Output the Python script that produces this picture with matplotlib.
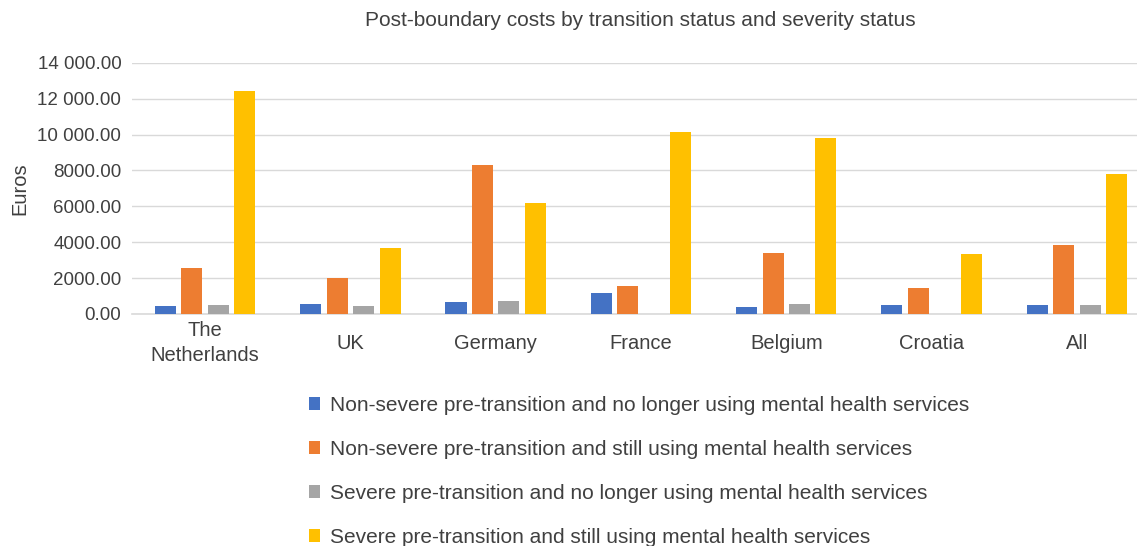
import matplotlib
matplotlib.use("Agg")
import matplotlib.pyplot as plt
import numpy as np
from matplotlib.ticker import FuncFormatter, MultipleLocator

countries = ["The\nNetherlands", "UK", "Germany", "France", "Belgium", "Croatia", "All"]
series_names = [
    "Non-severe pre-transition and no longer using mental health services",
    "Non-severe pre-transition and still using mental health services",
    "Severe pre-transition and no longer using mental health services",
    "Severe pre-transition and still using mental health services",
]
nonsevere_no_longer = [460, 530, 680, 1170, 370, 500, 500]
nonsevere_still = [2550, 2000, 8280, 1540, 3380, 1430, 3830]
severe_no_longer = [500, 460, 720, 0, 560, 0, 480]
severe_still = [12450, 3670, 6170, 10170, 9830, 3350, 7780]

colors = ["#4472c4", "#ed7d31", "#a5a5a5", "#ffc000"]
text_color = "#404040"

plt.rcParams['font.family'] = ['Liberation Sans', 'DejaVu Sans']

fig = plt.figure(figsize=(11.37, 5.46), dpi=100)
# plot area runs a little past the right edge, as in the source image
ax = fig.add_axes([0.1165, 0.425, 0.8945, 0.46])

x = np.arange(len(countries))
slot = 0.182
bar_w = 0.145
all_series = [nonsevere_no_longer, nonsevere_still, severe_no_longer, severe_still]
handles = []
for i, vals in enumerate(all_series):
    b = ax.bar(x + (i - 1.5) * slot, vals, bar_w, color=colors[i], label=series_names[i], zorder=3)
    handles.append(b)

ax.set_xlim(-0.5, len(countries) - 0.5)
ax.set_ylim(0, 14000)
ax.yaxis.set_major_locator(MultipleLocator(2000))

def fmt(v, pos):
    s = f"{v:.2f}"
    if v >= 10000:
        s = f"{int(v) // 1000} {int(v) % 1000:03d}.00"
    return s

ax.yaxis.set_major_formatter(FuncFormatter(fmt))
ax.grid(axis='y', color='#d9d9d9', linewidth=1, zorder=0)
for s in ['top', 'right', 'left']:
    ax.spines[s].set_visible(False)
ax.spines['bottom'].set_color('#d9d9d9')
ax.spines['bottom'].set_linewidth(1.2)
ax.tick_params(length=0, colors=text_color)
ax.tick_params(axis='y', pad=8, labelsize=13.5)
ax.tick_params(axis='x', pad=21, labelsize=14.5)
ax.set_xticks(x)
ax.set_xticklabels(countries, linespacing=1.35, va='center')
ax.set_ylabel("Euros", fontsize=14.5, color=text_color, labelpad=6)

fig.text(0.563, 0.962, "Post-boundary costs by transition status and severity status",
         ha='center', va='center', fontsize=15, color=text_color)

leg = fig.legend(handles=handles, labels=series_names, loc='upper left',
                 bbox_to_anchor=(0.264, 0.29), frameon=False, fontsize=15,
                 labelspacing=1.2, handlelength=0.55, handleheight=0.55,
                 handletextpad=0.5, labelcolor=text_color, borderaxespad=0)

fig.savefig("out.png", dpi=100)
